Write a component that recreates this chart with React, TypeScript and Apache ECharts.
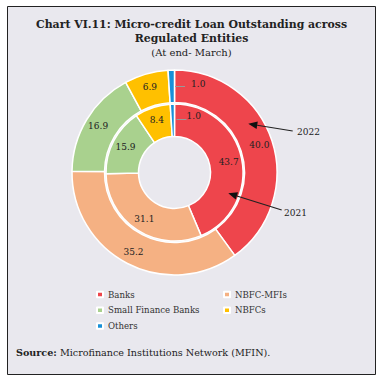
import React, { useEffect, useRef } from "react";
import * as echarts from "echarts";

const categories = ["Banks", "NBFC-MFIs", "Small Finance Banks", "NBFCs", "Others"];
const values2022 = [40.0, 35.2, 16.9, 6.9, 1.0];
const values2021 = [43.7, 31.1, 15.9, 8.4, 1.0];
const colors = ["#EE454C", "#F5B183", "#A9D18E", "#FFC000", "#1790D8"];
const yearLabels = ["2022", "2021"];

const FONT = "DejaVu Serif";

function arrow(tail: number[], tip: number[]) {
  const dx = tip[0] - tail[0];
  const dy = tip[1] - tail[1];
  const len = Math.sqrt(dx * dx + dy * dy);
  const ux = dx / len, uy = dy / len;
  const hl = 9, hw = 3.8;
  const bx = tip[0] - hl * ux, by = tip[1] - hl * uy;
  const nx = -uy, ny = ux;
  return [
    { type: "line", z: 100, shape: { x1: tail[0], y1: tail[1], x2: bx, y2: by }, style: { stroke: "#222", lineWidth: 1.2 } },
    { type: "polygon", z: 100, shape: { points: [tip, [bx + hw * nx, by + hw * ny], [bx - hw * nx, by - hw * ny]] }, style: { fill: "#111" } },
  ];
}

export default function App() {
  const ref = useRef<HTMLDivElement>(null);
  useEffect(() => {
    if (!ref.current) return;
    const chart = echarts.init(ref.current, undefined, { renderer: "svg" });
    const mk = (vals: number[], offset: number[]) =>
      vals.map((v, i) => ({
        name: categories[i],
        value: v,
        itemStyle: { color: colors[i] },
        label: i === 4 ? { position: "inside", offset } : undefined,
      }));
    const labelStyle = {
      show: true,
      position: "inside",
      fontFamily: FONT,
      fontSize: 9,
      color: "#222",
      formatter: (p: any) => p.value.toFixed(1),
    };
    const legendBase = {
      orient: "vertical",
      top: 289,
      padding: 0,
      itemWidth: 6,
      itemHeight: 5.5,
      itemGap: 4.7,
      icon: "rect",
      selectedMode: false,
      textStyle: { fontFamily: FONT, fontSize: 8.6, color: "#333", lineHeight: 11 },
    };
    chart.setOption({
      animation: false,
      backgroundColor: "#ffffff",
      title: {
        text: "Chart VI.11: Micro-credit Loan Outstanding across\nRegulated Entities",
        subtext: "(At end- March)",
        left: "center",
        top: 17,
        padding: 0,
        itemGap: 1,
        textStyle: { fontFamily: FONT, fontSize: 10.9, fontWeight: "bold", color: "#222", lineHeight: 14 },
        subtextStyle: { fontFamily: FONT, fontSize: 10, color: "#222", lineHeight: 12 },
      },
      legend: [
        { ...legendBase, data: [categories[0], categories[2], categories[4]], left: 96 },
        { ...legendBase, data: [categories[1], categories[3]], left: 223 },
      ],
      graphic: [
        { type: "rect", z: -10, shape: { x: 7.5, y: 6.5, width: 368, height: 368 }, style: { fill: "#E9E8EE", stroke: "#222", lineWidth: 1 } },
        { type: "line", z: 100, shape: { x1: 175, y1: 86.5, x2: 185, y2: 86.5 }, style: { stroke: "#999", lineWidth: 1 } },
        { type: "line", z: 100, shape: { x1: 176.5, y1: 119.5, x2: 186.5, y2: 119.5 }, style: { stroke: "#999", lineWidth: 1 } },
        ...arrow([292.7, 131], [248.3, 123.8]),
        ...arrow([281.7, 210], [228.3, 193.3]),
        { type: "text", z: 100, x: 297, y: 131.7, style: { text: yearLabels[0], font: `9px '${FONT}'`, fill: "#222", verticalAlign: "middle" } },
        { type: "text", z: 100, x: 284, y: 212.7, style: { text: yearLabels[1], font: `9px '${FONT}'`, fill: "#222", verticalAlign: "middle" } },
        {
          type: "text",
          z: 100,
          x: 16,
          y: 352,
          style: {
            text: "{b|Source:} Microfinance Institutions Network (MFIN).",
            verticalAlign: "middle",
            rich: {
              b: { fontFamily: FONT, fontSize: 9.6, fontWeight: "bold", fill: "#222" },
            },
            fontFamily: FONT,
            fontSize: 9.6,
            fill: "#222",
          },
        },
      ],
      series: [
        {
          name: yearLabels[0],
          type: "pie",
          center: [174.5, 172.5],
          radius: [70, 102.5],
          startAngle: 90,
          clockwise: true,
          silent: true,
          label: labelStyle,
          labelLine: { show: false },
          itemStyle: { borderColor: "#fff", borderWidth: 1.5 },
          data: mk(values2022, [26.5, 0.5]),
        },
        {
          name: yearLabels[1],
          type: "pie",
          center: [174.5, 172.5],
          radius: [36, 68.5],
          startAngle: 90,
          clockwise: true,
          silent: true,
          label: labelStyle,
          labelLine: { show: false },
          itemStyle: { borderColor: "#fff", borderWidth: 1.5 },
          data: mk(values2021, [21, -1]),
        },
      ],
    });
    return () => chart.dispose();
  }, []);
  return <div ref={ref} style={{ position: "fixed", left: 0, top: 0, width: 383, height: 382 }} />;
}
